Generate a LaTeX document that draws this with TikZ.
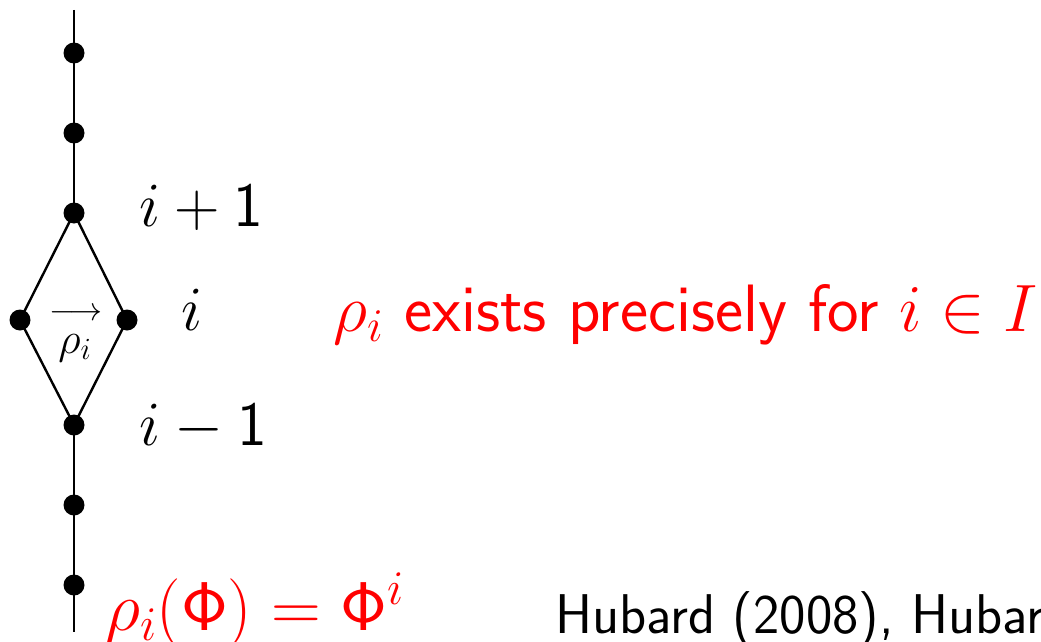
\RequirePackage{fix-cm}
\documentclass[tikz,border=0pt]{standalone}
\newcommand\bigfs{\fontsize{67}{72}\selectfont}
\newcommand\formfs{\fontsize{69}{74}\selectfont}
\newcommand\reffs{\fontsize{56}{60}\selectfont}
\newcommand\lblfs{\fontsize{63}{68}\selectfont}
\newcommand\midfs{\fontsize{44}{48}\selectfont}
\newcommand\arrfs{\fontsize{33}{36}\selectfont}
\begin{document}
\begin{tikzpicture}[x=1pt,y=-1pt,
  dot/.style={circle,fill=black,inner sep=0pt,minimum size=21pt},
  edge/.style={line width=2.4pt,black},
  lbl/.style={font=\lblfs\sffamily,inner sep=0pt,anchor=base west},
  txt/.style={font=\bigfs\sffamily,inner sep=0pt,anchor=base west},
  redlbl/.style={txt,text=red}]
\useasboundingbox (0,0) rectangle (1041,642);
\coordinate (top) at (74,10);
\coordinate (bot) at (74,632);
\node[dot] (d1) at (74,53) {};
\node[dot] (d2) at (74,133) {};
\node[dot] (t) at (74,213) {};
\node[dot] (l) at (20,320) {};
\node[dot] (r) at (127,320) {};
\node[dot] (b) at (74,425) {};
\node[dot] (d5) at (74,505) {};
\node[dot] (d6) at (74,585) {};
\draw[edge] (top) -- (t.center);
\draw[edge] (b.center) -- (bot);
\draw[edge] (t.center) -- (l.center) -- (b.center) -- (r.center) -- cycle;
\node[lbl] (lp) at (139,226) {$i\mathbin{\mathsf{+}}\mathsf{1}$};
\node[lbl] (li) at (181,330) {$i$};
\node[lbl] (lm) at (139,445) {$i\mathbin{\mathsf{-}}\mathsf{1}$};
\node[font=\arrfs,inner sep=0pt,anchor=base] (arr) at (76,320) {$\longrightarrow$};
\node[font=\midfs,inner sep=0pt,anchor=base] (rho) at (75,353) {$\rho_i$};
\node[redlbl] (ex) at (333,331) {$\rho_i$ exists precisely for $i\in I$};
\node[redlbl,font=\formfs\sffamily] (form) at (105,630) {$\rho_i(\mathsf{\Phi})\mathrel{\mathsf{=}}\mathsf{\Phi}^i$};
\node[txt,font=\reffs\sffamily] (ref) at (555,633) {Hubard (2008), Hubard};
\end{tikzpicture}
\end{document}
